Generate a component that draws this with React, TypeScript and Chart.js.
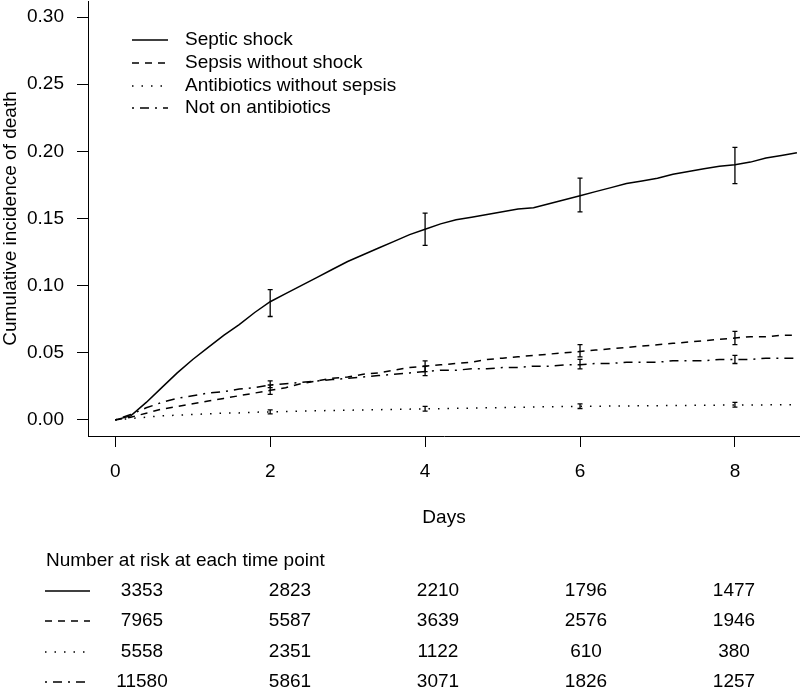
import React, { useEffect, useRef } from "react";
import { Chart, registerables } from "chart.js";

Chart.register(...registerables);

const FONT = '"Liberation Sans", Arial, Helvetica, sans-serif';

// time grid (days)
const days = [
  0, 0.2, 0.4, 0.6, 0.8, 1.0, 1.2, 1.4, 1.6, 1.8, 2.0, 2.2, 2.4, 2.6, 2.8, 3.0,
  3.2, 3.4, 3.6, 3.8, 4.0, 4.2, 4.4, 4.6, 4.8, 5.0, 5.2, 5.4, 5.6, 5.8, 6.0, 6.2,
  6.4, 6.6, 6.8, 7.0, 7.2, 7.4, 7.6, 7.8, 8.0, 8.2, 8.4, 8.6, 8.8,
];

const septicShock = [
  0, 0.003, 0.013, 0.024, 0.035, 0.045, 0.054, 0.063, 0.071, 0.08, 0.088, 0.094,
  0.1, 0.106, 0.112, 0.118, 0.123, 0.128, 0.133, 0.138, 0.142, 0.146, 0.149,
  0.151, 0.153, 0.155, 0.157, 0.158, 0.161, 0.164, 0.167, 0.17, 0.173, 0.176,
  0.178, 0.18, 0.183, 0.185, 0.187, 0.189, 0.19, 0.192, 0.195, 0.197, 0.199,
];

const sepsisWithoutShock = [
  0, 0.002, 0.005, 0.008, 0.01, 0.012, 0.014, 0.016, 0.018, 0.02, 0.022, 0.024,
  0.027, 0.029, 0.031, 0.032, 0.034, 0.035, 0.037, 0.039, 0.04, 0.041, 0.042,
  0.043, 0.045, 0.046, 0.047, 0.048, 0.049, 0.05, 0.051, 0.052, 0.053, 0.054,
  0.055, 0.056, 0.057, 0.058, 0.059, 0.06, 0.061, 0.062, 0.062, 0.063, 0.063,
];

const antibioticsWithoutSepsis = [
  0, 0.001, 0.002, 0.003, 0.0035, 0.004, 0.0045, 0.005, 0.0052, 0.0057, 0.006,
  0.0063, 0.0066, 0.0068, 0.007, 0.0072, 0.0074, 0.0076, 0.0078, 0.008, 0.0082,
  0.0084, 0.0086, 0.0088, 0.009, 0.0092, 0.0094, 0.0096, 0.0098, 0.0099, 0.0101,
  0.0102, 0.0103, 0.0104, 0.0105, 0.0106, 0.0107, 0.0108, 0.0109, 0.011, 0.011,
  0.0111, 0.0112, 0.0113, 0.0114,
];

const notOnAntibiotics = [
  0, 0.004, 0.009, 0.013, 0.016, 0.018, 0.02, 0.021, 0.023, 0.024, 0.026, 0.027,
  0.028, 0.029, 0.03, 0.031, 0.032, 0.033, 0.034, 0.035, 0.036, 0.037, 0.037,
  0.038, 0.038, 0.039, 0.039, 0.04, 0.04, 0.041, 0.041, 0.042, 0.042, 0.043,
  0.043, 0.043, 0.044, 0.044, 0.044, 0.045, 0.045, 0.045, 0.046, 0.046, 0.046,
];

// confidence intervals at selected days
const ciDays = [2, 4, 6, 8];
const septicLow = [0.077, 0.13, 0.155, 0.176];
const septicHigh = [0.097, 0.154, 0.18, 0.203];
const sepsisLow = [0.019, 0.036, 0.047, 0.056];
const sepsisHigh = [0.026, 0.044, 0.056, 0.066];
const antibioticsLow = [0.0045, 0.0065, 0.0085, 0.0095];
const antibioticsHigh = [0.0075, 0.01, 0.012, 0.013];
const notAbLow = [0.024, 0.033, 0.038, 0.042];
const notAbHigh = [0.029, 0.04, 0.045, 0.048];

const seriesNames = [
  "Septic shock",
  "Sepsis without shock",
  "Antibiotics without sepsis",
  "Not on antibiotics",
];

const xTicks = [0, 2, 4, 6, 8];
const yTicks = [0, 0.05, 0.1, 0.15, 0.2, 0.25, 0.3];

const riskTitle = "Number at risk at each time point";
const riskSeptic = [3353, 2823, 2210, 1796, 1477];
const riskSepsis = [7965, 5587, 3639, 2576, 1946];
const riskAntibiotics = [5558, 2351, 1122, 610, 380];
const riskNotAb = [11580, 5861, 3071, 1826, 1257];

const dashes: number[][] = [[], [7, 6], [1.5, 8], [2, 6, 9, 6]];

export default function App() {
  const ref = useRef<HTMLCanvasElement | null>(null);

  useEffect(() => {
    const canvas = ref.current;
    if (!canvas) return;
    const series = [septicShock, sepsisWithoutShock, antibioticsWithoutSepsis, notOnAntibiotics];
    const lows = [septicLow, sepsisLow, antibioticsLow, notAbLow];
    const highs = [septicHigh, sepsisHigh, antibioticsHigh, notAbHigh];
    const risks = [riskSeptic, riskSepsis, riskAntibiotics, riskNotAb];

    const extras = {
      id: "extras",
      afterDatasetsDraw(chart: any) {
        const ctx = chart.ctx;
        const xs = chart.scales.x;
        const ys = chart.scales.y;
        ctx.save();
        ctx.strokeStyle = "#000";
        ctx.lineWidth = 1.3;
        ctx.setLineDash([]);
        for (let s = 0; s < lows.length; s++) {
          for (let i = 0; i < ciDays.length; i++) {
            const px = xs.getPixelForValue(ciDays[i]);
            const y1 = ys.getPixelForValue(lows[s][i]);
            const y2 = ys.getPixelForValue(highs[s][i]);
            ctx.beginPath();
            ctx.moveTo(px, y1);
            ctx.lineTo(px, y2);
            ctx.moveTo(px - 2.5, y1);
            ctx.lineTo(px + 2.5, y1);
            ctx.moveTo(px - 2.5, y2);
            ctx.lineTo(px + 2.5, y2);
            ctx.stroke();
          }
        }
        ctx.restore();
      },
      afterDraw(chart: any) {
        const ctx = chart.ctx;
        const area = chart.chartArea;
        ctx.save();
        ctx.fillStyle = "#000";
        ctx.strokeStyle = "#000";
        ctx.font = `19px ${FONT}`;
        ctx.textBaseline = "middle";

        // legend
        const legRows = [40, 63, 86, 108];
        for (let i = 0; i < seriesNames.length; i++) {
          ctx.lineWidth = 1.5;
          ctx.setLineDash(dashes[i]);
          ctx.beginPath();
          ctx.moveTo(132, legRows[i]);
          ctx.lineTo(168, legRows[i]);
          ctx.stroke();
          ctx.setLineDash([]);
          ctx.textAlign = "left";
          ctx.fillText(seriesNames[i], 185, legRows[i]);
        }

        // axis titles
        ctx.textAlign = "center";
        ctx.fillText("Days", (area.left + area.right) / 2, 518);
        ctx.save();
        ctx.translate(11, (area.top + area.bottom) / 2);
        ctx.rotate(-Math.PI / 2);
        ctx.fillText("Cumulative incidence of death", 0, 0);
        ctx.restore();

        // number at risk table
        ctx.textAlign = "left";
        ctx.fillText(riskTitle, 46, 561);
        const rowY = [591, 621, 652, 682];
        const colX = [142, 290, 438, 586, 734];
        for (let r = 0; r < risks.length; r++) {
          ctx.lineWidth = 1.5;
          ctx.setLineDash(dashes[r]);
          ctx.beginPath();
          ctx.moveTo(45, rowY[r]);
          ctx.lineTo(90, rowY[r]);
          ctx.stroke();
          ctx.setLineDash([]);
          ctx.textAlign = "center";
          for (let c = 0; c < risks[r].length; c++) {
            ctx.fillText(String(risks[r][c]), colX[c], rowY[r]);
          }
        }
        ctx.restore();
      },
    };

    const chart = new Chart(canvas, {
      type: "line",
      data: {
        datasets: series.map((vals, s) => ({
          label: seriesNames[s],
          data: days.map((d, i) => ({ x: d, y: vals[i] })),
          borderColor: "#000",
          borderWidth: 1.5,
          borderDash: dashes[s],
          pointRadius: 0,
          tension: 0,
          fill: false,
        })),
      },
      options: {
        responsive: false,
        animation: false,
        layout: { padding: { top: 1, left: 0, right: 0, bottom: 0 } },
        plugins: { legend: { display: false }, tooltip: { enabled: false }, title: { display: false } },
        scales: {
          x: {
            type: "linear",
            min: -0.352,
            max: 8.84,
            afterBuildTicks: (s: any) => {
              s.ticks = xTicks.map((v) => ({ value: v }));
            },
            afterFit: (s: any) => {
              s.height = 253;
              s.paddingLeft = 0;
              s.paddingRight = 0;
            },
            ticks: {
              color: "#000",
              font: { size: 19, family: FONT },
              padding: 13,
              maxRotation: 0,
              callback: (v: any) => String(v),
            },
            grid: { drawOnChartArea: false, drawTicks: true, tickLength: 11, tickColor: "#000", tickWidth: 1 },
            border: { display: true, color: "#000", width: 1 },
          },
          y: {
            type: "linear",
            min: -0.012,
            max: 0.312,
            afterBuildTicks: (s: any) => {
              s.ticks = yTicks.map((v) => ({ value: v }));
            },
            afterFit: (s: any) => {
              s.width = 88;
              s.paddingTop = 0;
              s.paddingBottom = 0;
            },
            ticks: {
              color: "#000",
              font: { size: 19, family: FONT },
              padding: 13,
              callback: (v: any) => Number(v).toFixed(2),
            },
            grid: { drawOnChartArea: false, drawTicks: true, tickLength: 11, tickColor: "#000", tickWidth: 1 },
            border: { display: true, color: "#000", width: 1 },
          },
        },
      },
      plugins: [extras],
    });
    return () => chart.destroy();
  }, []);

  return (
    <div style={{ position: "absolute", left: 0, top: 0, width: 800, height: 689, background: "#fff" }}>
      <canvas ref={ref} width={800} height={689} style={{ display: "block" }} />
    </div>
  );
}
